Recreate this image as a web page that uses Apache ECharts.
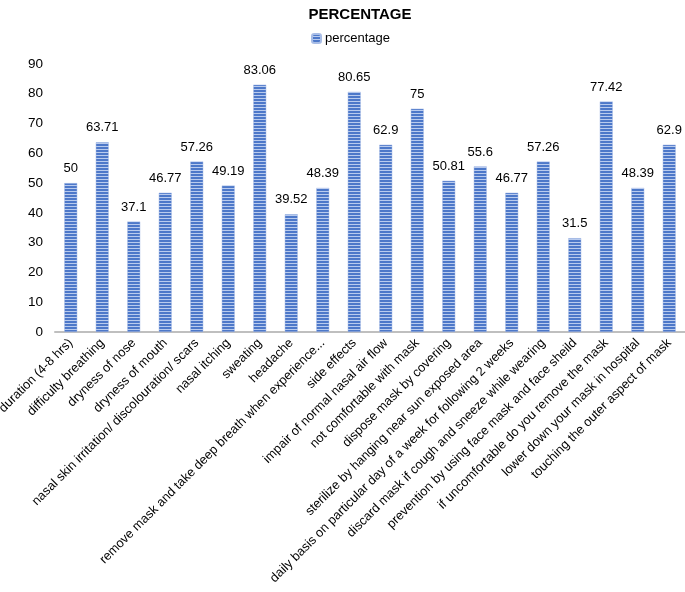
<!DOCTYPE html>
<html><head><meta charset="utf-8">
<script src="https://cdn.jsdelivr.net/npm/echarts@6/dist/echarts.min.js"></script>
<style>html,body{margin:0;padding:0;background:#fff}#c{width:685px;height:592px}</style>
</head><body><div id="c"></div>
<script>
const categories = [
  "duration (4-8 hrs)",
  "difficulty breathing",
  "dryness of nose",
  "dryness of mouth",
  "nasal skin irritation/ discolouration/ scars",
  "nasal itching",
  "sweating",
  "headache",
  "remove mask and take deep breath when experience...",
  "side effects",
  "impair of normal nasal air flow",
  "not comfortable with mask",
  "dispose mask by covering",
  "sterilize by hanging near sun exposed area",
  "daily basis on particular day of a week for following 2 weeks",
  "discard mask if cough and sneeze while wearing",
  "prevention by using face mask and face sheild",
  "if uncomfortable do you remove the mask",
  "lower down your mask in hospital",
  "touching the outer aspect of mask"
];
const percentage = [50, 63.71, 37.1, 46.77, 57.26, 49.19, 83.06, 39.52, 48.39, 80.65, 62.9, 75, 50.81, 55.6, 46.77, 57.26, 31.5, 77.42, 48.39, 62.9];
const yTicks = {min: 0, max: 90, interval: 10};

const cv = document.createElement('canvas');
cv.width = 4; cv.height = 3;
const g = cv.getContext('2d');
g.fillStyle = '#4d78c9'; g.fillRect(0,0,4,2);
g.fillStyle = '#b9cbee'; g.fillRect(0,2,4,1);
const pattern = {image: cv, repeat: 'repeat'};

const FONT = "'Liberation Sans', Arial, sans-serif";
const chart = echarts.init(document.getElementById('c'));
chart.setOption({
  animation: false,
  title: {text: 'PERCENTAGE', left: 355, textAlign: 'center', top: 2,
    textStyle: {fontFamily: FONT, fontSize: 15, fontWeight: 'bold', color: '#000'}},
  legend: {data: ['percentage'], left: 306, top: 27, itemWidth: 9, itemHeight: 9, itemGap: 4,
    textStyle: {fontFamily: FONT, fontSize: 13, color: '#000', padding: [0,0,0,-1]}},
  grid: {left: 55, right: 0, top: 64, bottom: 260, containLabel: false, outerBoundsMode: 'none'},
  xAxis: {type: 'category', data: categories,
    axisLine: {lineStyle: {color: '#bfbfbf', width: 2}},
    axisTick: {show: false},
    axisLabel: {rotate: 45, interval: 0, margin: 9, fontFamily: FONT, fontSize: 12.8, color: '#000'}},
  yAxis: {type: 'value', min: yTicks.min, max: yTicks.max, interval: yTicks.interval,
    axisLine: {show: false}, axisTick: {show: false}, splitLine: {show: false},
    axisLabel: {fontFamily: FONT, fontSize: 13.5, color: '#000', margin: 12}},
  series: [{name: 'percentage', type: 'bar', data: percentage, barWidth: 13,
    itemStyle: {color: pattern, borderColor: '#a8bde6', borderWidth: 0.5},
    label: {show: true, position: 'top', distance: 8, fontFamily: FONT, fontSize: 13, color: '#000'}}]
});
</script></body></html>
